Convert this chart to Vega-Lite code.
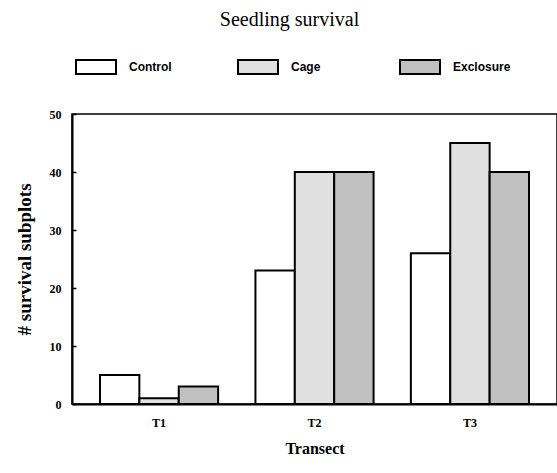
{
  "$schema": "https://vega.github.io/schema/vega-lite/v6.json",
  "width": 485,
  "height": 290,
  "autosize": {"type": "none"},
  "padding": {"left": 72, "top": 114, "right": 0, "bottom": 69},
  "background": "white",
  "title": {
    "text": "Seedling survival",
    "font": "Liberation Serif",
    "fontSize": 20,
    "fontWeight": "normal",
    "color": "black",
    "anchor": "middle",
    "frame": "group",
    "dx": -25,
    "offset": 16
  },
  "data": {
    "values": [
      {"transect": "T1", "treatment": "Control", "count": 5},
      {"transect": "T1", "treatment": "Cage", "count": 1},
      {"transect": "T1", "treatment": "Exclosure", "count": 3},
      {"transect": "T2", "treatment": "Control", "count": 23},
      {"transect": "T2", "treatment": "Cage", "count": 40},
      {"transect": "T2", "treatment": "Exclosure", "count": 40},
      {"transect": "T3", "treatment": "Control", "count": 26},
      {"transect": "T3", "treatment": "Cage", "count": 45},
      {"transect": "T3", "treatment": "Exclosure", "count": 40}
    ]
  },
  "mark": {"type": "bar", "stroke": "black", "strokeWidth": 2},
  "encoding": {
    "x": {
      "field": "transect",
      "type": "nominal",
      "scale": {"paddingInner": 0.24, "paddingOuter": 0.18},
      "axis": {
        "title": "Transect",
        "titleFont": "Liberation Serif",
        "titleFontSize": 16,
        "titleFontWeight": "bold",
        "titleColor": "black",
        "titlePadding": 12,
        "labelFont": "Liberation Serif",
        "labelFontSize": 12,
        "labelFontWeight": "bold",
        "labelColor": "black",
        "labelAngle": 0,
        "labelPadding": 13,
        "ticks": false,
        "domainColor": "black",
        "domainWidth": 2
      }
    },
    "xOffset": {
      "field": "treatment",
      "type": "nominal",
      "sort": ["Control", "Cage", "Exclosure"]
    },
    "y": {
      "field": "count",
      "type": "quantitative",
      "scale": {"domain": [0, 50], "nice": false},
      "axis": {
        "title": "# survival subplots",
        "titleFont": "Liberation Serif",
        "titleFontSize": 19,
        "titleFontWeight": "bold",
        "titleColor": "black",
        "titlePadding": 15,
        "labelFont": "Liberation Serif",
        "labelFontSize": 12,
        "labelFontWeight": "bold",
        "labelColor": "black",
        "labelPadding": 15,
        "values": [0, 10, 20, 30, 40, 50],
        "tickSize": -4,
        "tickColor": "black",
        "tickWidth": 1.5,
        "grid": false,
        "domainColor": "black",
        "domainWidth": 2
      }
    },
    "fill": {
      "field": "treatment",
      "type": "nominal",
      "sort": ["Control", "Cage", "Exclosure"],
      "scale": {
        "domain": ["Control", "Cage", "Exclosure"],
        "range": ["#ffffff", "#e0e0e0", "#c0c0c0"]
      },
      "legend": {
        "title": null,
        "orient": "none",
        "legendX": 3,
        "legendY": -68,
        "direction": "horizontal",
        "columns": 3,
        "gridAlign": "all",
        "columnPadding": 47,
        "padding": 0,
        "symbolType": "M-1,-0.35H1V0.35H-1Z",
        "symbolSize": 1600,
        "symbolStrokeColor": "black",
        "symbolStrokeWidth": 2,
        "labelFont": "Liberation Sans",
        "labelFontSize": 12,
        "labelFontWeight": "bold",
        "labelColor": "black",
        "labelOffset": 12
      }
    }
  },
  "config": {
    "view": {"stroke": "black", "strokeWidth": 1.5}
  }
}
